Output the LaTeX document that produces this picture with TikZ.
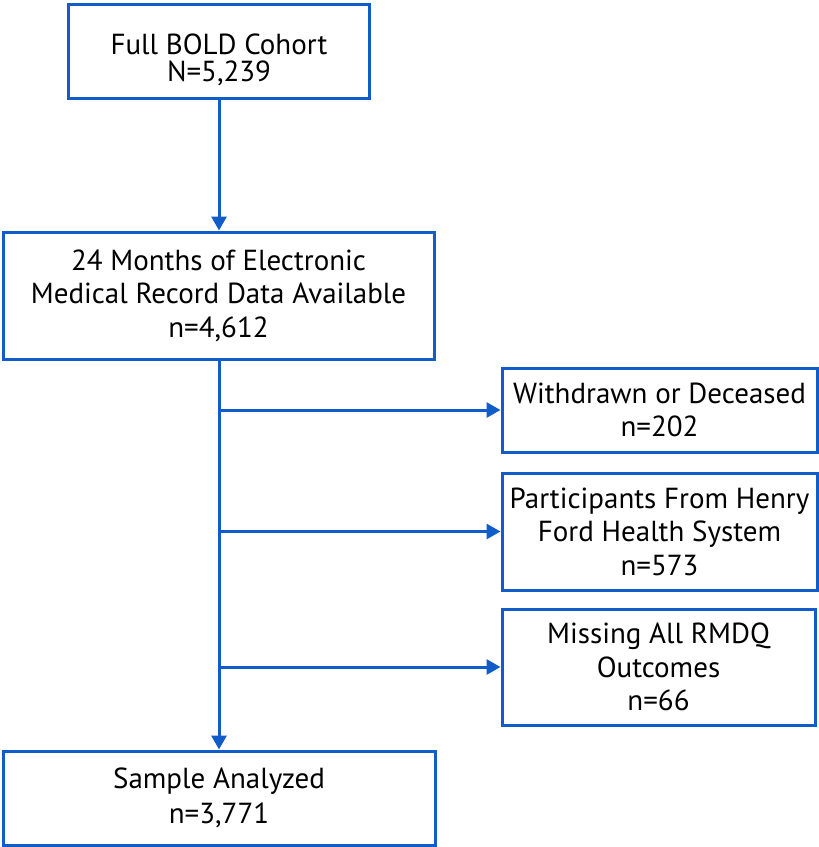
\documentclass[tikz,border=0pt]{standalone}
\usepackage{fontspec}
\setmainfont{PT Sans}
\usetikzlibrary{arrows.meta}
\definecolor{flowblue}{RGB}{16,92,200}
\begin{document}
\begin{tikzpicture}[x=1pt,y=-1pt,
  box/.style={draw=flowblue,line width=3pt,align=center,inner sep=0pt,
    font=\fontsize{29}{33.5}\selectfont,text=black},
  lbl/.style={align=center,inner sep=0pt,font=\fontsize{29}{27}\selectfont,text=black},
  conn/.style={draw=flowblue,line width=3pt,-{Triangle[length=14pt,width=15pt]}}]
\useasboundingbox (0,0) rectangle (819,847);
\node[box,minimum width=301pt,minimum height=94pt] (b1) at (219,51.5) {};
\node[lbl] (b1t) at (219,59.5) {Full BOLD Cohort\\N=5,239};
\node[box,minimum width=431pt,minimum height=127pt] (b2) at (218.5,295.5) {24 Months of Electronic\\Medical Record Data Available\\n=4,612};
\node[box,minimum width=315pt,minimum height=84pt] (b3) at (659.5,410) {Withdrawn or Deceased\\n=202};
\node[box,minimum width=315pt,minimum height=117pt] (b4) at (659.5,531.5) {Participants From Henry\\Ford Health System\\n=573};
\node[box,minimum width=313pt,minimum height=116pt] (b5) at (658.5,667) {Missing All RMDQ\\Outcomes\\n=66};
\node[box,minimum width=432pt,minimum height=94pt] (b6) at (219,798) {Sample Analyzed\\[1.5pt]n=3,771};
\coordinate (t) at (219,0);
\draw[conn] (b1.south) -- (b1.south |- b2.north);
\draw[conn] (t |- b2.south) -- (t |- b6.north);
\draw[conn] (t |- b3.west) -- (b3.west);
\draw[conn] (t |- b4.west) -- (b4.west);
\draw[conn] (t |- b5.west) -- (b5.west);
\end{tikzpicture}
\end{document}
